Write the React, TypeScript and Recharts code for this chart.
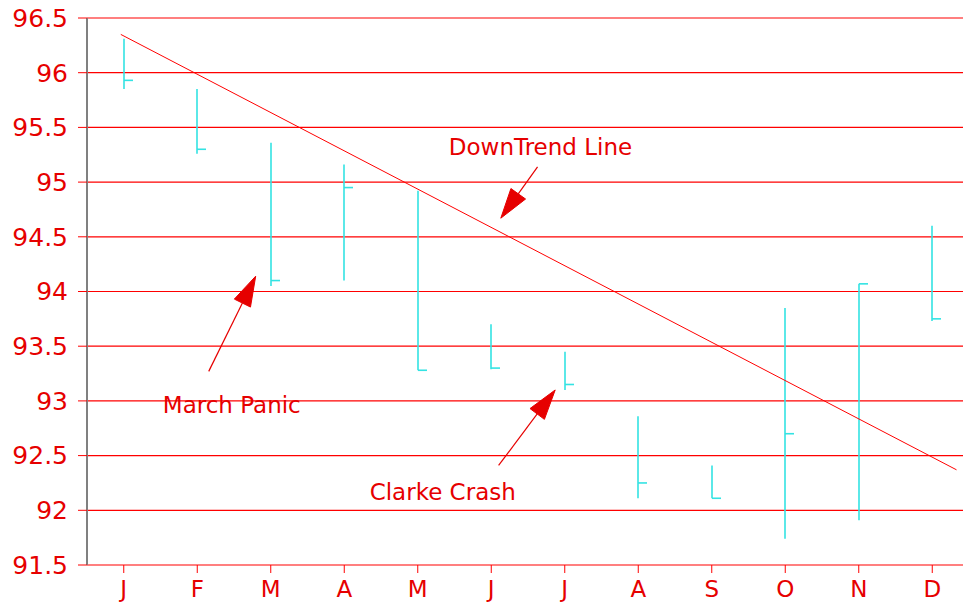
import React from 'react';
import { ComposedChart, Bar, XAxis, YAxis, CartesianGrid, ReferenceLine, ReferenceDot } from 'recharts';

const months = ['J', 'F', 'M', 'A', 'M', 'J', 'J', 'A', 'S', 'O', 'N', 'D'];
const highs = [96.31, 95.85, 95.36, 95.16, 94.92, 93.7, 93.45, 92.86, 92.41, 93.85, 94.07, 94.6];
const lows = [95.85, 95.26, 94.05, 94.1, 93.28, 93.29, 93.1, 92.11, 92.11, 91.74, 91.91, 93.73];
const closes = [95.93, 95.3, 94.1, 94.95, 93.28, 93.3, 93.15, 92.25, 92.11, 92.7, 94.07, 93.75];
const yTicks = [91.5, 92, 92.5, 93, 93.5, 94, 94.5, 95, 95.5, 96, 96.5];

const trendStart = { x: -0.04, y: 96.35 };
const trendEnd = { x: 11.33, y: 92.37 };

const annotationTexts = ['DownTrend Line', 'March Panic', 'Clarke Crash'];
const annotationTextPos = [
  { x: 5.67, y: 95.32 },
  { x: 1.47, y: 92.96 },
  { x: 4.34, y: 92.17 },
];
const arrowTails = [
  { x: 5.63, y: 95.14 },
  { x: 1.156, y: 93.27 },
  { x: 5.1, y: 92.41 },
];
const arrowTips = [
  { x: 5.13, y: 94.67 },
  { x: 1.795, y: 94.14 },
  { x: 5.87, y: 93.1 },
];

const data = months.map((m, i) => ({ x: i, month: m, high: highs[i], low: lows[i], close: closes[i] }));

const FONT = 'DejaVu Sans';
const RED = '#ff0000';
const TEXT_RED = '#e60000';
const CYAN = '#33e3e3';

const HLCShape = (props: any) => {
  const { x, y, width, height, payload } = props;
  const cx = Math.round(x + width / 2);
  const range = payload.high - payload.low;
  const cy = range > 0 ? y + ((payload.high - payload.close) / range) * height : y;
  return (
    <g>
      <line x1={cx} y1={y} x2={cx} y2={y + height} stroke={CYAN} strokeWidth={1.6} />
      <line x1={cx} y1={cy} x2={cx + 9} y2={cy} stroke={CYAN} strokeWidth={1.6} />
    </g>
  );
};

const ArrowShape = (props: any) => {
  const { x1, y1, x2, y2 } = props;
  const dx = x2 - x1;
  const dy = y2 - y1;
  const len = Math.sqrt(dx * dx + dy * dy) || 1;
  const ux = dx / len;
  const uy = dy / len;
  const headLen = 30;
  const headHalf = 9;
  const bx = x2 - ux * headLen;
  const by = y2 - uy * headLen;
  const px = -uy;
  const py = ux;
  const pts = `${x2},${y2} ${bx + px * headHalf},${by + py * headHalf} ${bx - px * headHalf},${by - py * headHalf}`;
  return (
    <g>
      <line x1={x1} y1={y1} x2={bx} y2={by} stroke={TEXT_RED} strokeWidth={1.2} />
      <polygon points={pts} fill={TEXT_RED} stroke={TEXT_RED} strokeWidth={1} />
    </g>
  );
};

const makeTextShape = (text: string) => (props: any) => (
  <text
    x={props.cx}
    y={props.cy}
    textAnchor="middle"
    dominantBaseline="central"
    fill={TEXT_RED}
    fontFamily={FONT}
    fontSize={23}
  >
    {text}
  </text>
);

export default function App() {
  return (
    <div style={{ position: 'absolute', left: 0, top: 0, width: 963, height: 604, overflow: 'hidden', background: '#fff' }}>
      <ComposedChart
        width={980}
        height={604}
        data={data}
        margin={{ top: 18, right: 11, bottom: 0, left: 0 }}
      >
        <CartesianGrid horizontal={true} vertical={false} stroke={RED} strokeWidth={1.2} />
        <XAxis
          dataKey="x"
          type="number"
          domain={[-0.5, 11.5]}
          ticks={[0, 1, 2, 3, 4, 5, 6, 7, 8, 9, 10, 11]}
          tickFormatter={(v: number) => months[v]}
          axisLine={false}
          tickLine={{ stroke: RED }}
          tickSize={8}
          tickMargin={8}
          height={39}
          interval={0}
          tick={{ fill: TEXT_RED, fontFamily: FONT, fontSize: 23 }}
        />
        <YAxis
          type="number"
          domain={[91.5, 96.5]}
          ticks={yTicks}
          width={87}
          axisLine={{ stroke: '#808080', strokeWidth: 2 }}
          tickLine={{ stroke: RED }}
          tickSize={9}
          tickMargin={10}
          interval={0}
          tick={{ fill: TEXT_RED, fontFamily: FONT, fontSize: 25 }}
        />
        <Bar dataKey={(d: any) => [d.low, d.high]} shape={HLCShape} isAnimationActive={false} />
        <ReferenceLine
          segment={[trendStart, trendEnd]}
          stroke={RED}
          strokeWidth={1}
          ifOverflow="visible"
        />
        {arrowTails.map((t, i) => (
          <ReferenceLine
            key={'arr' + i}
            segment={[t, arrowTips[i]]}
            shape={ArrowShape}
            ifOverflow="visible"
          />
        ))}
        {annotationTexts.map((txt, i) => (
          <ReferenceDot
            key={'txt' + i}
            x={annotationTextPos[i].x}
            y={annotationTextPos[i].y}
            r={0}
            ifOverflow="visible"
            shape={makeTextShape(txt)}
          />
        ))}
      </ComposedChart>
    </div>
  );
}
